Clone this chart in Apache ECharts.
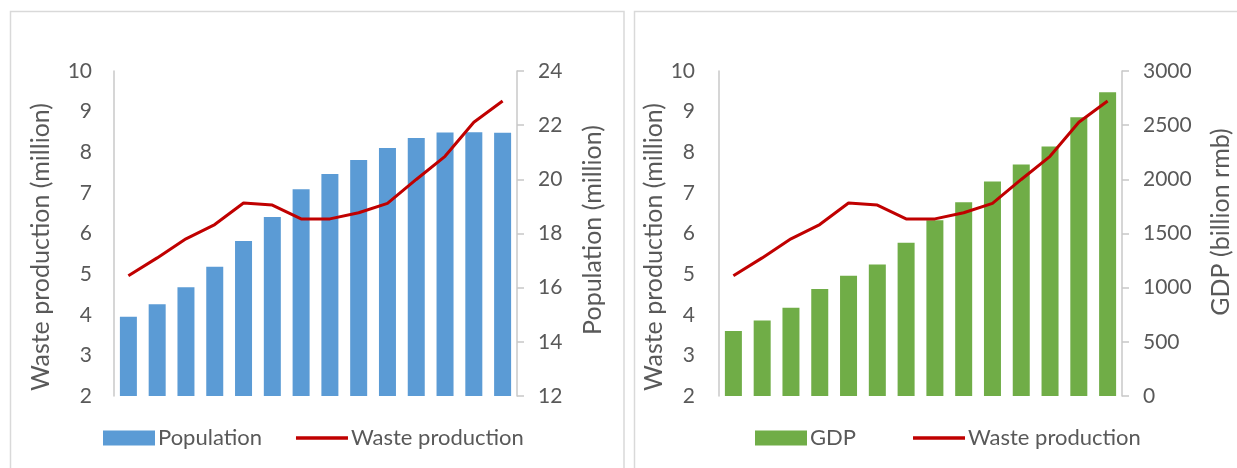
<!DOCTYPE html>
<html>
<head>
<meta charset="utf-8">
<script src="https://cdn.jsdelivr.net/npm/echarts@6/dist/echarts.min.js"></script>
<style>
html,body{margin:0;padding:0;background:#fff;}
#main{width:1237px;height:468px;}
</style>
</head>
<body>
<div id="main"></div>
<script>
var categories = ['1','2','3','4','5','6','7','8','9','10','11','12','13','14'];
var population = [14.93,15.39,16.02,16.77,17.72,18.61,19.63,20.20,20.71,21.16,21.53,21.73,21.74,21.72];
var wasteProduction = [4.96,5.40,5.87,6.22,6.75,6.70,6.36,6.36,6.51,6.74,7.33,7.90,8.74,9.26];
var gdp = [601,697,814,987,1110,1215,1415,1622,1788,1980,2137,2303,2572,2803];

var FONT = 'Lato';
var TXT = '#595959';
var AX = '#c8c8c8';
var TICK_FS = 21;
var NAME_FS = 25;
var LEG_FS = 22;

function plain(v) { return String(v); }

function leftAxis(grid, name, gap, labelMargin, pad) {
  return {
    type: 'value', gridIndex: grid, position: 'left', min: 2, max: 10, interval: 1,
    name: name, nameLocation: 'middle', nameGap: gap,
    nameTextStyle: {color: TXT, fontFamily: FONT, fontSize: NAME_FS, padding: pad},
    axisLine: {show: true, lineStyle: {color: AX, width: 1.5}},
    axisTick: {show: false},
    splitLine: {show: false},
    axisLabel: {color: TXT, fontFamily: FONT, fontSize: TICK_FS, margin: labelMargin, formatter: plain}
  };
}
function rightAxis(grid, name, gap, min, max, interval, pad) {
  return {
    type: 'value', gridIndex: grid, position: 'right', min: min, max: max, interval: interval,
    name: name, nameLocation: 'middle', nameGap: gap,
    nameTextStyle: {color: TXT, fontFamily: FONT, fontSize: NAME_FS, padding: pad},
    axisLine: {show: true, lineStyle: {color: AX, width: 1.5}},
    axisTick: {show: true, length: 7, lineStyle: {color: AX, width: 1.5}},
    splitLine: {show: false},
    axisLabel: {color: TXT, fontFamily: FONT, fontSize: TICK_FS, margin: 21, formatter: plain}
  };
}
function catAxis(grid) {
  return {
    type: 'category', gridIndex: grid, data: categories,
    axisLine: {show: false}, axisTick: {show: false}, axisLabel: {show: false}
  };
}
var LINE_ICON = 'path://M0,0H0.05V0.05H0Z M0,5.75H52V9.25H0Z M0,14.95H0.05V15H0Z';
function legend(left, gap, items) {
  return {
    left: left, top: 422, itemWidth: 52, itemHeight: 15, itemGap: gap,
    textStyle: {color: TXT, fontFamily: FONT, fontSize: LEG_FS, padding: [0,0,0,-2]},
    data: items
  };
}

var chart = echarts.init(document.getElementById('main'));
chart.setOption({
  backgroundColor: '#fff',
  animation: false,
  graphic: [
    {type: 'rect', shape: {x: 10.5, y: 11.5, width: 613.5, height: 480}, style: {fill: 'none', stroke: '#d9d9d9', lineWidth: 1.5}},
    {type: 'rect', shape: {x: 634.5, y: 11.5, width: 700, height: 480}, style: {fill: 'none', stroke: '#d9d9d9', lineWidth: 1.5}}
  ],
  grid: [
    {left: 114, top: 71, width: 403, height: 325},
    {left: 719, top: 71, width: 403, height: 325}
  ],
  legend: [
    legend(98, 34, [{name: 'Population', icon: 'rect'}, {name: 'Waste production', icon: LINE_ICON}]),
    legend(750, 57, [{name: 'GDP', icon: 'rect'}, {name: 'Waste production', icon: LINE_ICON}])
  ],
  xAxis: [catAxis(0), catAxis(1)],
  yAxis: [
    leftAxis(0, 'Waste production (million)', 61, 22, [0, 27, 0, 0]),
    rightAxis(0, 'Population (million)', 63, 12, 24, 2, [0, 0, 0, 7]),
    leftAxis(1, 'Waste production (million)', 43, 24, [0, 27, 0, 0]),
    rightAxis(1, 'GDP (billion rmb)', 86, 0, 3000, 500, [0, 0, 0, 23])
  ],
  series: [
    {name: 'Population', type: 'bar', xAxisIndex: 0, yAxisIndex: 1, data: population,
     barWidth: 17, itemStyle: {color: '#5B9BD5'}},
    {name: 'Waste production', type: 'line', xAxisIndex: 0, yAxisIndex: 0, data: wasteProduction,
     symbol: 'none', lineStyle: {color: '#C00000', width: 3}, itemStyle: {color: '#C00000'}, z: 3},
    {name: 'GDP', type: 'bar', xAxisIndex: 1, yAxisIndex: 3, data: gdp,
     barWidth: 17, itemStyle: {color: '#70AD47'}},
    {name: 'Waste production', type: 'line', xAxisIndex: 1, yAxisIndex: 2, data: wasteProduction,
     symbol: 'none', lineStyle: {color: '#C00000', width: 3}, itemStyle: {color: '#C00000'}, z: 3}
  ]
});
</script>
</body>
</html>
